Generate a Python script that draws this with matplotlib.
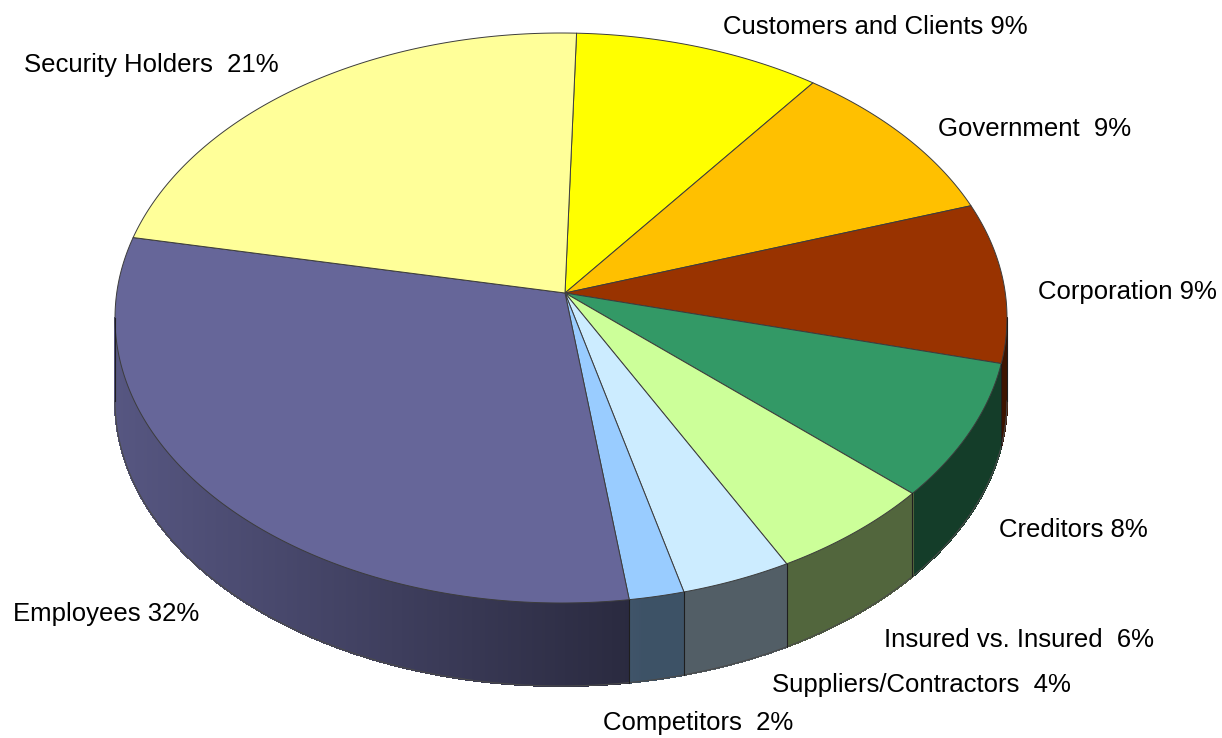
import matplotlib.pyplot as plt
import numpy as np
from matplotlib.collections import PolyCollection
from matplotlib.colors import to_rgb

# slices listed clockwise, starting just right of twelve o'clock
labels = ["Customers and Clients", "Government", "Corporation", "Creditors",
          "Insured vs. Insured", "Suppliers/Contractors", "Competitors",
          "Employees", "Security Holders"]
shares = [9, 9, 9, 8, 6, 4, 2, 32, 21]
colors = ["#FFFF00", "#FFC000", "#993300", "#339966", "#CCFF99",
          "#CCECFF", "#99CCFF", "#666699", "#FFFF99"]

# label anchors (left edge, baseline) in pixels and spaces before the number
label_pos = [(723, 34), (938, 136), (1038, 299), (999, 537), (884, 647),
             (772, 692), (603, 730), (13, 621), (24, 72)]
gaps = [1, 2, 1, 1, 2, 2, 2, 1, 2]

W, H = 1222, 738
cx, cy = 561, 318          # centre of the rim ellipse
rx, ry = 446, 285
apex = (565, 293)          # where the wedges meet
depth = 83
start = 88

fig = plt.figure(figsize=(W / 100, H / 100), dpi=100)
ax = fig.add_axes([0, 0, 1, 1])
ax.set_xlim(0, W)
ax.set_ylim(H, 0)
ax.axis("off")


def rim(t, drop=0.0):
    t = np.radians(t)
    return cx + rx * np.cos(t), cy - ry * np.sin(t) + drop


def shade(x):
    # side walls get darker towards the front-right
    return np.clip(0.84 - 0.00084 * (x - 120), 0.40, 0.9)


spans = np.array(shares, dtype=float) / sum(shares) * 360
edges = start - np.concatenate([[0], np.cumsum(spans)])

# side walls, drawn as thin strips so the shading can vary
polys, fcols = [], []
for i, col in enumerate(colors):
    a1, a2 = edges[i], edges[i + 1]
    hi, lo = min(a1, 0), max(a2, -180)
    if lo >= hi:
        continue
    base = np.array(to_rgb(col))
    ts = np.linspace(hi, lo, max(int((hi - lo) * 3), 2))
    for t0, t1 in zip(ts[:-1], ts[1:]):
        x0, y0 = rim(t0)
        x1, y1 = rim(t1)
        polys.append([(x0, y0), (x1, y1), (x1, y1 + depth), (x0, y0 + depth)])
        fcols.append(base * shade((x0 + x1) / 2))
ax.add_collection(PolyCollection(polys, facecolors=fcols, edgecolors=fcols,
                                 linewidths=0.8, antialiaseds=False))

# outline of the side walls
tb = np.linspace(0, -180, 400)
bx, by = rim(tb, depth)
ax.plot(bx, by, color="#4a4a4a", lw=0.8)
for t in list(edges) + [0, -180]:
    if -180 <= t <= 0:
        x, y = rim(t)
        ax.plot([x, x], [y, y + depth], color="#1e1e1e", lw=0.8)

# top faces
for i, col in enumerate(colors):
    a1, a2 = edges[i], edges[i + 1]
    ts = np.linspace(a1, a2, max(int(abs(a1 - a2) * 2), 3))
    xs, ys = rim(ts)
    pts = [apex] + list(zip(xs, ys))
    ax.fill([p[0] for p in pts], [p[1] for p in pts], facecolor=col,
            edgecolor="#3c3c3c", lw=0.7, joinstyle="round")

# labels
for lab, val, (x, y), g in zip(labels, shares, label_pos, gaps):
    ax.text(x, y, f"{lab}{' ' * g}{val}%", ha="left", va="baseline",
            fontsize=18.5, family="Liberation Sans", color="black")

fig.savefig("out.png", dpi=100, facecolor="white")
